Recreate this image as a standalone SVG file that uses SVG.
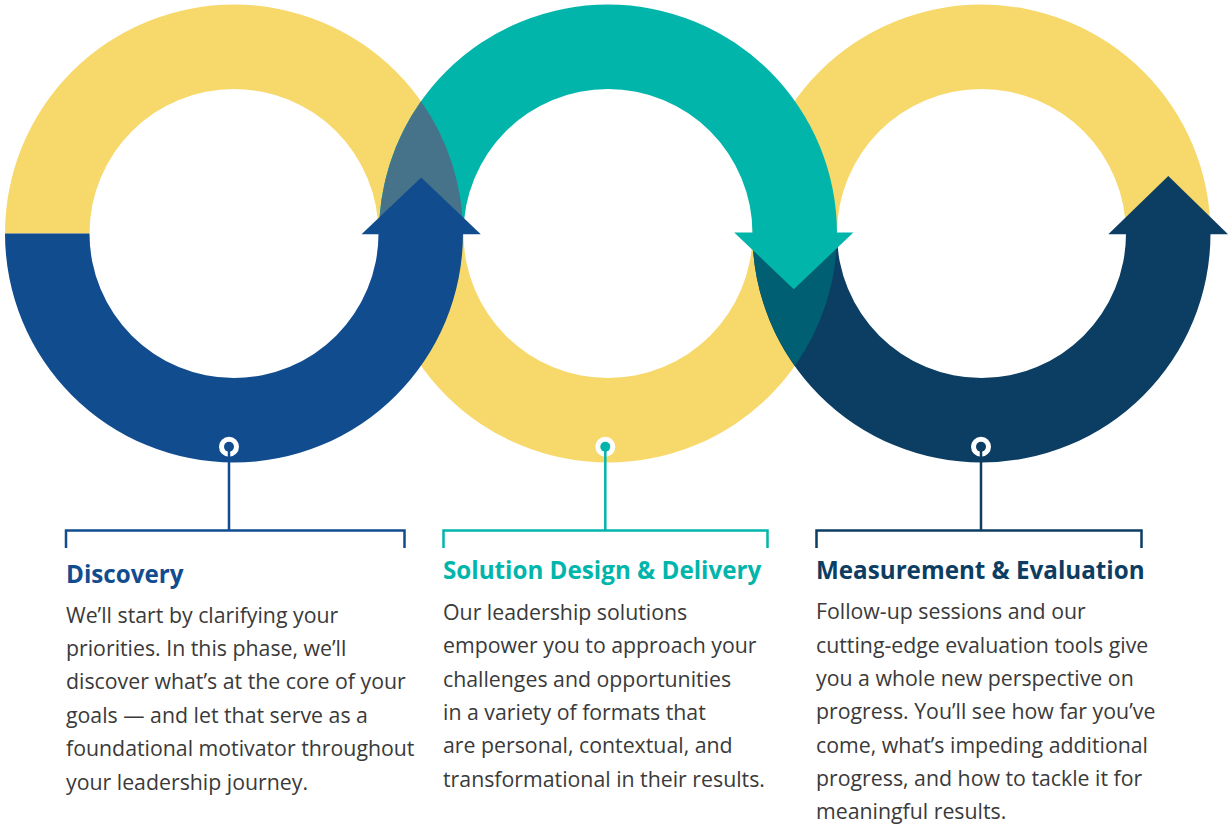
<svg xmlns="http://www.w3.org/2000/svg" width="1229" height="825" viewBox="0 0 1229 825">
<style>
.yel{fill:#F7D86A}
.blue{fill:#114C8F}
.teal{fill:#02B5AA}
.navy{fill:#0C3D62}
.title{font-family:"Open Sans","Noto Sans",sans-serif;font-weight:700;font-size:24.2px}
.body{font-family:"Open Sans","Noto Sans",sans-serif;font-size:21.3px;fill:#3A3A3A}
.ln{fill:none;stroke-width:2.5}
</style>
<rect width="1229" height="825" fill="#FFFFFF"/>
<g id="rings">
<path class="yel" d="M5,233.5 A229,229 0 0 1 463,233.5 L378.5,233.5 A144.5,144.5 0 0 0 89.5,233.5 Z"/>
<path class="yel" d="M379,233.5 A229,229 0 0 0 837,233.5 L752.5,233.5 A144.5,144.5 0 0 1 463.5,233.5 Z"/>
<path class="yel" d="M752.5,233.5 A229,229 0 0 1 1210.5,233.5 L1126,233.5 A144.5,144.5 0 0 0 837,233.5 Z"/>
<path class="teal" d="M379,233.5 A229,229 0 0 1 837,233.5 L752.5,233.5 A144.5,144.5 0 0 0 463.5,233.5 Z"/>
<path class="navy" d="M752.5,233.5 A229,229 0 0 0 1210.5,233.5 L1126,233.5 A144.5,144.5 0 0 1 837,233.5 Z"/>
<path fill="#46738A" d="M379,233.5 A229,229 0 0 1 421,101.3 A229,229 0 0 1 463,233.5 Z"/>
<path fill="#005F73" d="M752.5,233.5 L837,233.5 A229,229 0 0 1 794.75,366 A229,229 0 0 1 752.5,233.5 Z"/>
</g>
<g id="node-discovery-arrow">
<path class="blue" d="M5,233.5 A229,229 0 0 0 463,233.5 L378.5,233.5 A144.5,144.5 0 0 1 89.5,233.5 Z"/>
<path class="blue" d="M361.5,234.2 L421.2,177.5 L480.8,234.2 Z"/>
</g>
<g id="node-solution-arrow">
<path class="teal" d="M734.2,232.5 L793.8,289.2 L853.4,232.5 Z"/>
</g>
<g id="node-measurement-arrow">
<path class="navy" d="M1108.3,234.2 L1168.3,175.9 L1228,234.2 Z"/>
</g>
<g id="connectors">
<circle cx="229" cy="446.7" r="10" fill="#FFFFFF"/>
<path class="ln" stroke="#114C8F" d="M229,446.7 V530.5 M66,548 V530.5 H404.5 V548"/>
<circle cx="229" cy="446.7" r="5" class="blue"/>
<circle cx="605.3" cy="446.7" r="10" fill="#FFFFFF"/>
<path class="ln" stroke="#02B5AA" d="M605.3,446.7 V530.5 M443.5,548 V530.5 H767.5 V548"/>
<circle cx="605.3" cy="446.7" r="5" class="teal"/>
<circle cx="981" cy="446.7" r="10" fill="#FFFFFF"/>
<path class="ln" stroke="#0C3D62" d="M981,446.7 V530.5 M816.5,548 V530.5 H1141.5 V548"/>
<circle cx="981" cy="446.7" r="5" class="navy"/>
</g>
<g id="node-discovery">
<text class="title" x="66" y="583.3" fill="#114C8F">Discovery</text>
<text class="body" x="66" y="622.7">We’ll start by clarifying your</text>
<text class="body" x="66" y="656">priorities. In this phase, we’ll</text>
<text class="body" x="66" y="689.4">discover what’s at the core of your</text>
<text class="body" x="66" y="722.8">goals — and let that serve as a</text>
<text class="body" x="66" y="756.1">foundational motivator throughout</text>
<text class="body" x="66" y="789.5">your leadership journey.</text>
</g>
<g id="node-solution">
<text class="title" x="443" y="579.3" fill="#02B5AA">Solution Design &amp; Delivery</text>
<text class="body" x="443" y="620">Our leadership solutions</text>
<text class="body" x="443" y="653.3">empower you to approach your</text>
<text class="body" x="443" y="686.6">challenges and opportunities</text>
<text class="body" x="443" y="719.9">in a variety of formats that</text>
<text class="body" x="443" y="753.2">are personal, contextual, and</text>
<text class="body" x="443" y="786.5">transformational in their results.</text>
</g>
<g id="node-measurement">
<text class="title" x="816" y="579.3" fill="#0C3D62">Measurement &amp; Evaluation</text>
<text class="body" x="816" y="619.3">Follow-up sessions and our</text>
<text class="body" x="816" y="652.6">cutting-edge evaluation tools give</text>
<text class="body" x="816" y="685.9">you a whole new perspective on</text>
<text class="body" x="816" y="719.2">progress. You’ll see how far you’ve</text>
<text class="body" x="816" y="752.5">come, what’s impeding additional</text>
<text class="body" x="816" y="785.8">progress, and how to tackle it for</text>
<text class="body" x="816" y="819.1">meaningful results.</text>
</g>
</svg>
